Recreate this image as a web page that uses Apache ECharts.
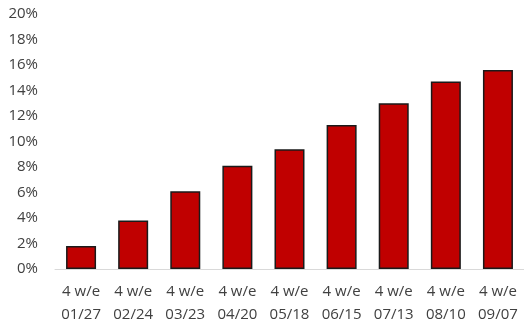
<!DOCTYPE html>
<html lang="en">
<head>
  <meta charset="UTF-8" />
  <title>4 w/e</title>
  <script src="https://cdn.jsdelivr.net/npm/echarts@6/dist/echarts.min.js"></script>
</head>
<body style="margin:0;background:#fff;">
  <div id="main" style="width: 524px; height: 326px;"></div>
  <script type="text/javascript">
    // data
    let categories = ['4 w/e\n01/27', '4 w/e\n02/24', '4 w/e\n03/23', '4 w/e\n04/20', '4 w/e\n05/18',
                      '4 w/e\n06/15', '4 w/e\n07/13', '4 w/e\n08/10', '4 w/e\n09/07'];
    let values = [1.8, 3.8, 6.1, 8.1, 9.4, 11.3, 13.0, 14.7, 15.6];

    let barColor = '#C00000';
    let textColor = '#404040';

    var myChart = echarts.init(document.getElementById('main'));
    myChart.setOption({
      animation: false,
      grid: { left: 55, right: -2, top: 14, bottom: 55 },
      xAxis: {
        type: 'category',
        data: categories,
        axisLine: { lineStyle: { color: '#d9d9d9', width: 1 } },
        axisTick: { show: false },
        axisLabel: {
          color: textColor, fontSize: 15, fontFamily: 'Open Sans',
          lineHeight: 23, margin: 11, interval: 0
        }
      },
      yAxis: {
        type: 'value',
        min: 0, max: 20, interval: 2,
        splitLine: { show: false },
        axisLine: { show: false },
        axisTick: { show: false },
        axisLabel: {
          formatter: '{value}%', color: textColor, fontSize: 15,
          fontFamily: 'Open Sans', margin: 17
        }
      },
      series: [{
        type: 'bar',
        data: values,
        barWidth: 30,
        itemStyle: { color: barColor, borderColor: '#1a1a1a', borderWidth: 1.5 }
      }]
    });
  </script>
</body>
</html>
